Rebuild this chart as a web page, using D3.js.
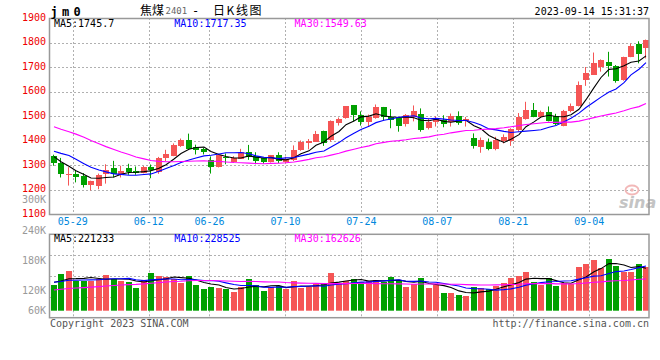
<!DOCTYPE html>
<html><head><meta charset="utf-8">
<script src="https://cdn.jsdelivr.net/npm/d3@7"></script>
<style>
html,body{margin:0;padding:0;background:#fff;}
svg{display:block;}
text{font-family:"DejaVu Sans Mono",monospace;}
</style></head><body>
<svg id="c" width="660" height="360"></svg>
<script>
// ---------- data ----------
const dates = ["05-24","05-25","05-26","05-29","05-30","05-31","06-01","06-02","06-05","06-06","06-07","06-08","06-09","06-12","06-13","06-14","06-15","06-16","06-19","06-20","06-21","06-26","06-27","06-28","06-29","06-30","07-03","07-04","07-05","07-06","07-07","07-10","07-11","07-12","07-13","07-14","07-17","07-18","07-19","07-20","07-21","07-24","07-25","07-26","07-27","07-28","07-31","08-01","08-02","08-03","08-04","08-07","08-08","08-09","08-10","08-11","08-14","08-15","08-16","08-17","08-18","08-21","08-22","08-23","08-24","08-25","08-28","08-29","08-30","08-31","09-01","09-04","09-05","09-06","09-07","09-08","09-11","09-12","09-13","09-14"];
const opens = [1335,1310,1262,1264,1257,1215,1215,1264,1286,1260,1286,1275,1269,1290,1268,1327,1339,1379,1403,1375,1365,1320,1292,1333,1312,1327,1354,1337,1327,1312,1340,1312,1320,1360,1391,1397,1439,1399,1472,1490,1543,1505,1475,1492,1536,1497,1492,1469,1494,1510,1450,1478,1482,1478,1501,1478,1411,1374,1394,1364,1399,1399,1439,1489,1526,1495,1516,1501,1462,1519,1543,1650,1668,1699,1719,1704,1647,1742,1792,1776];
const highs = [1342,1329,1291,1276,1267,1236,1265,1303,1317,1297,1305,1294,1296,1302,1333,1362,1388,1408,1428,1383,1371,1335,1343,1347,1336,1366,1382,1352,1329,1341,1352,1334,1380,1400,1406,1439,1440,1482,1494,1540,1545,1519,1506,1547,1537,1528,1493,1508,1543,1531,1489,1499,1503,1510,1519,1496,1429,1412,1408,1415,1425,1450,1512,1558,1553,1522,1539,1509,1525,1551,1641,1700,1759,1731,1762,1708,1742,1796,1805,1812];
const lows = [1297,1249,1216,1229,1208,1196,1201,1224,1249,1249,1260,1260,1266,1246,1264,1316,1336,1374,1365,1343,1343,1265,1290,1303,1310,1326,1321,1303,1305,1310,1308,1307,1316,1358,1364,1395,1378,1395,1461,1489,1478,1461,1457,1489,1483,1450,1436,1457,1478,1436,1445,1457,1454,1457,1464,1457,1367,1350,1360,1360,1388,1378,1436,1485,1495,1492,1478,1462,1458,1515,1539,1623,1668,1681,1661,1636,1644,1740,1715,1735];
const closes = [1305,1265,1265,1253,1219,1233,1260,1280,1263,1276,1268,1266,1292,1279,1327,1343,1382,1403,1367,1361,1352,1293,1342,1327,1328,1354,1334,1315,1312,1340,1314,1323,1360,1393,1399,1428,1390,1478,1489,1539,1501,1475,1494,1536,1494,1485,1461,1506,1519,1443,1475,1489,1464,1501,1472,1487,1378,1401,1364,1401,1415,1446,1494,1526,1499,1515,1481,1468,1522,1539,1627,1677,1715,1728,1704,1641,1739,1786,1753,1809];
// volume in thousand lots
const volumes = [128,183,198,150,150,150,158,178,158,148,145,113,153,188,173,168,160,138,173,128,108,120,113,110,93,120,157,128,98,120,123,108,148,115,118,133,133,190,140,148,158,145,148,153,142,168,153,118,133,165,113,128,88,88,78,73,118,113,108,123,138,163,173,193,143,130,163,123,138,133,218,233,253,215,258,222,193,193,235,218];
// sessions before the visible window (needed for the moving averages)
const priorCloses = [1565,1565,1553,1609,1623,1650,1640,1623,1576,1568,1566,1532,1480,1430,1400,1380,1360,1340,1330,1325,1355,1355,1403,1399,1383,1370,1355,1345,1295];
const priorVolumes = [78,85,72,90,81,76,88,79,83,74,86,80,77,84,82,92,96,90,98,94,140,135,150,138,147,150,142,148,142];
const priceTicks = [1900,1800,1700,1600,1500,1400,1300,1200,1100];
const volTicks = [300,240,180,120,60];
const dateTicks = ["05-29","06-12","06-26","07-10","07-24","08-07","08-21","09-04"];
const priceLegend = ["MA5:1745.7","MA10:1717.35","MA30:1549.63"];
const volLegend = ["MA5:221233","MA10:228525","MA30:162626"];
const maPeriods = [5,10,30];
const maColors = ["#000000","#0000ff","#ff00ff"];

// ---------- layout ----------
const L = 50, R = 650, T = 18, B = 214;
const VT = 234.3, VB = 317.7, VBASE = 310.7;
const RED = "#f55555", GREEN = "#00a000";

const svg = d3.select("#c");
const x = d3.scaleBand().domain(dates).range([L, R]);
const gx = d3.scaleLinear().domain([0, dates.length - 1]).range([L, R]);
const y = d3.scaleLinear().domain([1100, 1900]).range([B, T]);
const yv = d3.scaleLinear().domain([0, 382]).range([VBASE, VT]);
const yvLabel = d3.scaleLinear().domain([120, 300]).range([294, 203.3]);

const bodyW = 6;
const bx = d => Math.round(x(d) + (x.bandwidth() - bodyW) / 2);
const cx = d => bx(d) + 2.5;

function movingAvg(all, n, offset) {
  return dates.map((d, i) => d3.mean(all.slice(i + offset - n + 1, i + offset + 1)));
}
const cAll = priorCloses.concat(closes);
const vAll = priorVolumes.concat(volumes);
const priceMA = maPeriods.map(n => movingAvg(cAll, n, priorCloses.length));
const volMA = maPeriods.map(n => movingAvg(vAll, n, priorVolumes.length));

const up = i => closes[i] >= opens[i];

// clip paths
const defs = svg.append("defs");
defs.append("clipPath").attr("id", "cm").append("rect").attr("x", L).attr("y", T).attr("width", R - L - 1).attr("height", B - T);
defs.append("clipPath").attr("id", "cv").append("rect").attr("x", L).attr("y", VT).attr("width", R - L - 1).attr("height", VB - VT);

// ---------- grids ----------
const grid = svg.append("g").attr("stroke", "#b0b0b0").attr("stroke-width", 1).attr("stroke-dasharray", "2,2");
grid.selectAll("line.h").data(priceTicks.slice(1, -1)).join("line")
  .attr("x1", L).attr("x2", R - 1).attr("y1", d => Math.round(y(d)) + 0.5).attr("y2", d => Math.round(y(d)) + 0.5);
grid.selectAll("line.v").data(dateTicks).join("line")
  .attr("x1", d => Math.round(gx(dates.indexOf(d))) + 0.5).attr("x2", d => Math.round(gx(dates.indexOf(d))) + 0.5)
  .attr("y1", T).attr("y2", B);
// volume panel grid (4 equal parts)
const vGridY = d3.scaleLinear().domain([0, 4]).range([VT, VB]);
grid.selectAll("line.vh").data([1, 2, 3]).join("line")
  .attr("x1", L).attr("x2", R - 1).attr("y1", d => Math.round(vGridY(d)) + 0.5).attr("y2", d => Math.round(vGridY(d)) + 0.5);
grid.selectAll("line.vv").data(dateTicks).join("line")
  .attr("x1", d => Math.round(gx(dates.indexOf(d))) + 0.5).attr("x2", d => Math.round(gx(dates.indexOf(d))) + 0.5)
  .attr("y1", VT).attr("y2", VB);

// ---------- watermark ----------
const wm = svg.append("g");
wm.append("ellipse").attr("cx", 632).attr("cy", 190).attr("rx", 6.5).attr("ry", 4.5)
  .attr("fill", "none").attr("stroke", "#f2b8b8").attr("stroke-width", 1.8);
wm.append("circle").attr("cx", 632).attr("cy", 190).attr("r", 1.8).attr("fill", "#f2b8b8");
wm.append("text").attr("x", 619).attr("y", 208).attr("font-size", 16).attr("font-style", "italic")
  .attr("font-weight", "bold").style("font-family", "DejaVu Sans, sans-serif").attr("fill", "#c4c4c4").text("sina");

// ---------- candles ----------
const cg = svg.append("g").attr("clip-path", "url(#cm)");
const idx = d3.range(dates.length);
cg.selectAll("line.w").data(idx).join("line")
  .attr("x1", i => cx(dates[i])).attr("x2", i => cx(dates[i]))
  .attr("y1", i => y(highs[i])).attr("y2", i => y(lows[i]))
  .attr("stroke", i => up(i) ? RED : GREEN).attr("stroke-width", 1);
cg.selectAll("rect.b").data(idx).join("rect")
  .attr("x", i => bx(dates[i]))
  .attr("y", i => Math.round(y(Math.max(opens[i], closes[i]))))
  .attr("width", bodyW)
  .attr("height", i => Math.max(1, Math.round(Math.abs(y(opens[i]) - y(closes[i])))))
  .attr("fill", i => up(i) ? RED : GREEN);

// MA lines price
const lineP = d3.line().x((d, i) => cx(dates[i]) + 0.5).y(d => y(d));
const mg = svg.append("g").attr("clip-path", "url(#cm)");
priceMA.forEach((arr, k) => {
  mg.append("path").attr("d", lineP(arr)).attr("fill", "none")
    .attr("stroke", maColors[k]).attr("stroke-width", 1.1);
});

// ---------- volume ----------
const vg = svg.append("g").attr("clip-path", "url(#cv)");
vg.selectAll("rect").data(idx).join("rect")
  .attr("x", i => bx(dates[i])).attr("width", bodyW)
  .attr("y", i => Math.round(yv(volumes[i])))
  .attr("height", i => VBASE - Math.round(yv(volumes[i])))
  .attr("fill", i => up(i) ? RED : GREEN);
const lineV = d3.line().x((d, i) => cx(dates[i]) + 0.5).y(d => yv(d));
volMA.forEach((arr, k) => {
  vg.append("path").attr("d", lineV(arr)).attr("fill", "none")
    .attr("stroke", maColors[k]).attr("stroke-width", 1.1);
});

// ---------- frames ----------
svg.append("rect").attr("x", L - 0.5).attr("y", T + 0.5).attr("width", R - L - 0.5).attr("height", B - T)
  .attr("fill", "none").attr("stroke", "#999").attr("stroke-width", 1.5);
svg.append("rect").attr("x", L - 0.5).attr("y", VT).attr("width", R - L - 0.5).attr("height", VB - VT)
  .attr("fill", "none").attr("stroke", "#999").attr("stroke-width", 1.5);

// ---------- axis labels ----------
svg.append("g").selectAll("text").data(priceTicks).join("text")
  .attr("x", 46).attr("y", d => y(d) + 2.5).attr("text-anchor", "end")
  .attr("font-size", 10).attr("fill", "#ee0000").text(d => d);
svg.append("g").selectAll("text").data(volTicks).join("text")
  .attr("x", 46).attr("y", d => Math.min(yvLabel(d), 314)).attr("text-anchor", "end")
  .attr("font-size", 10).attr("fill", "#999").text(d => d + "K");
svg.append("g").selectAll("text").data(dateTicks).join("text")
  .attr("x", d => gx(dates.indexOf(d))).attr("y", 225).attr("text-anchor", "middle")
  .attr("font-size", 10).attr("fill", "#0088dd").text(d => d);

// ---------- legends ----------
const legX = d3.scaleLinear().domain([0, 1]).range([54, 174.3]);
svg.append("g").selectAll("text").data(priceLegend).join("text")
  .attr("x", (d, i) => legX(i)).attr("y", 27.3).attr("font-size", 10)
  .attr("fill", (d, i) => maColors[i]).text(d => d);
svg.append("g").selectAll("text").data(volLegend).join("text")
  .attr("x", (d, i) => legX(i)).attr("y", 241.7).attr("font-size", 10)
  .attr("fill", (d, i) => maColors[i]).text(d => d);

// ---------- titles ----------
svg.append("text").attr("x", 50.5).attr("y", 15.5).attr("font-size", 12).attr("font-weight", "bold")
  .attr("letter-spacing", 4.3).attr("fill", "#000").text("jm0");
const cjk = "'Noto Sans CJK SC', sans-serif";
svg.append("text").attr("x", 140).attr("y", 15).attr("font-size", 12).style("font-family", cjk).attr("fill", "#000").text("焦煤");
svg.append("text").attr("x", 165.5).attr("y", 14).attr("font-size", 9).attr("fill", "#666").text("2401");
svg.append("text").attr("x", 192).attr("y", 15).attr("font-size", 12).attr("fill", "#000").text("-");
svg.append("text").attr("x", 213).attr("y", 15).attr("font-size", 12).attr("letter-spacing", 1.6).style("font-family", cjk).attr("fill", "#000").text("日K线图");
svg.append("text").attr("x", 649).attr("y", 15).attr("text-anchor", "end").attr("font-size", 10).attr("fill", "#000").text("2023-09-14 15:31:37");
svg.append("text").attr("x", 50).attr("y", 327).attr("font-size", 10).attr("fill", "#555").text("Copyright 2023 SINA.COM");
svg.append("text").attr("x", 649).attr("y", 327).attr("text-anchor", "end").attr("font-size", 10).attr("fill", "#555").text("http://finance.sina.com.cn");
</script>
</body></html>
